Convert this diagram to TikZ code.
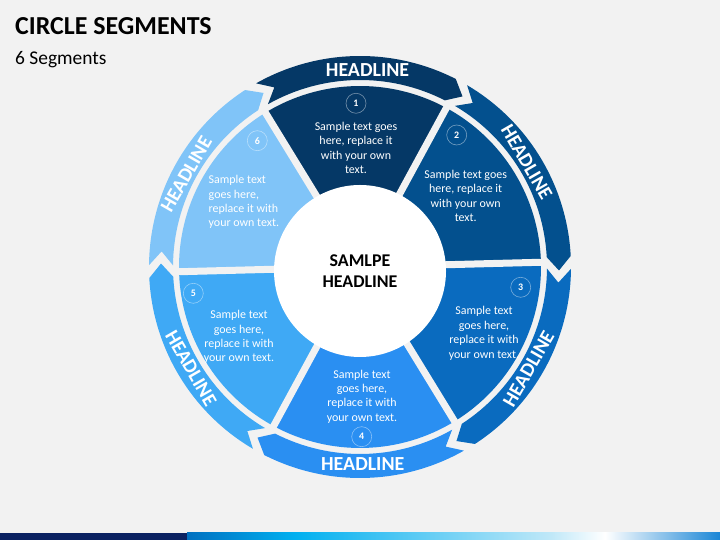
\documentclass[tikz,border=0pt]{standalone}
\usepackage{fontspec}
\setmainfont{Carlito}
\usetikzlibrary{positioning}

\definecolor{bgGray}{HTML}{F2F2F2}
\definecolor{segA}{HTML}{053866}
\definecolor{segB}{HTML}{03508E}
\definecolor{segC}{HTML}{0A6BBF}
\definecolor{segD}{HTML}{2A8FF2}
\definecolor{segE}{HTML}{3FA9F5}
\definecolor{segF}{HTML}{80C4F8}
\definecolor{stripNavy}{HTML}{0B2262}
\definecolor{stripBlue}{HTML}{0070C0}
\definecolor{stripCyan}{HTML}{00B0F0}
\definecolor{stripPale}{HTML}{C0E8F8}
\definecolor{stripEnd}{HTML}{1A86D6}

\tikzset{
  segtext/.style={text=white, inner sep=0pt, font=\fontsize{12}{14.4}\selectfont},
  numcirc/.style={circle, draw=white, draw opacity=0.45, line width=0.6bp, minimum size=20bp,
    inner sep=0pt, text=white, font=\bfseries\fontsize{10}{12}\selectfont},
  headtext/.style={text=white, inner sep=0pt, font=\bfseries\fontsize{20}{24}\selectfont}
}

\begin{document}
\begin{tikzpicture}[x=1bp, y=1bp]
\useasboundingbox (0,0) rectangle (720,540);
\fill[bgGray] (0,0) rectangle (720,540);

% bottom strip
\fill[stripNavy] (0,0) rectangle (187,7);
\shade[left color=stripBlue, right color=stripCyan] (187,0) rectangle (295,7);
\shade[left color=stripCyan, right color=stripPale] (295,0) rectangle (551,7);
\shade[left color=stripPale, right color=white] (551,0) rectangle (605,7);
\shade[left color=white, right color=stripEnd] (605,0) rectangle (720,7);

% title
\node[anchor=base west, inner sep=0pt, font=\bfseries\fontsize{26}{30}\selectfont] (title) at (15,505) {CIRCLE SEGMENTS};
\node[anchor=base west, inner sep=0pt, font=\fontsize{19.5}{23}\selectfont] (subtitle) at (15,475) {6 Segments};

\begin{scope}[shift={(360,273)}]
  % inner segments
  \foreach \c [count=\i] in {segA,segB,segC,segD,segE,segF}{
    \pgfmathsetmacro{\hi}{121.5-60*(\i-1)}
    \pgfmathsetmacro{\lo}{\hi-60}
    \fill[\c] (0,0) -- (\hi:181) arc[start angle=\hi, end angle=\lo, radius=181] -- cycle;
  }
  \foreach \a in {1.5,61.5,121.5,181.5,241.5,301.5}
    \draw[bgGray, line width=7bp] (0,0) -- (\a:184);
  \fill[white] (0,-4) circle[radius=86];

  % outer arrows
  \foreach \c [count=\i] in {segA,segB,segC,segD,segE,segF}{
    \pgfmathsetmacro{\back}{120.5-60*\i+59}
    \pgfmathsetmacro{\notch}{\back-4}
    \pgfmathsetmacro{\shoulder}{\back-56.5}
    \pgfmathsetmacro{\tip}{\shoulder-4}
    \fill[\c] (\back:211) arc[start angle=\back, end angle=\shoulder, radius=211]
      -- (\tip:199) -- (\shoulder:187) arc[start angle=\shoulder, end angle=\back, radius=187]
      -- (\notch:199) -- cycle;
  }
  \foreach \a/\rot [count=\i] in {87.8/0, 32.2/-60, -31.2/60, -89.2/0, 210.9/-60, 151.9/60}
    \node[headtext, rotate=\rot] (head\i) at (\a:197) {HEADLINE};
\end{scope}

% centre
\node[align=center, inner sep=0pt, font=\bfseries\fontsize{18}{21.7}\selectfont] (hub) at (360,269) {SAMLPE\\HEADLINE};

% segment texts
\node[segtext, align=center] (textA) at (356,392) {Sample text goes\\here, replace it\\with your own\\text.};
\node[segtext, align=center] (textB) at (465.7,344) {Sample text goes\\here, replace it\\with your own\\text.};
\node[segtext, align=center] (textC) at (484,206.7) {Sample text\\goes here,\\replace it with\\your own text.};
\node[segtext, align=center] (textD) at (362,143.5) {Sample text\\goes here,\\replace it with\\your own text.};
\node[segtext, align=center] (textE) at (239,202.8) {Sample text\\goes here,\\replace it with\\your own text.};
\node[segtext, align=left, anchor=west] (textF) at (208.5,338) {Sample text\\goes here,\\replace it with\\your own text.};

% numbers
\node[numcirc] (numA) at (356,436.7) {1};
\node[numcirc] (numB) at (456.7,405) {2};
\node[numcirc] (numC) at (520.7,252.7) {3};
\node[numcirc] (numD) at (361.7,103.3) {4};
\node[numcirc] (numE) at (193.3,246.7) {5};
\node[numcirc] (numF) at (257.3,399.3) {6};
\end{tikzpicture}
\end{document}
